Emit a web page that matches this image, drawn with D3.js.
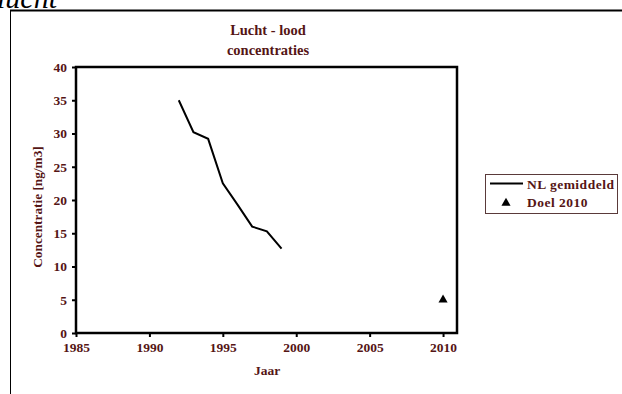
<!DOCTYPE html>
<html><head><meta charset="utf-8">
<script src="https://cdn.jsdelivr.net/npm/d3@7"></script>
<style>body{margin:0;background:#fff}svg{display:block}</style>
</head><body>
<svg id="c" width="622" height="394"></svg>
<script>
const years = [1992, 1993, 1994, 1995, 1996, 1997, 1998, 1999];
const nlGemiddeld = [35, 30.2, 29.2, 22.5, 19.3, 16.0, 15.3, 12.7];
const doelYears = [2010];
const doelValues = [5];
const xTicks = [1985, 1990, 1995, 2000, 2005, 2010];
const yTicks = [0, 5, 10, 15, 20, 25, 30, 35, 40];
const seriesNames = ["NL gemiddeld", "Doel 2010"];
const titleLines = ["Lucht - lood", "concentraties"];

const txt = "#551515";
const font = "'Liberation Serif', 'Times New Roman', serif";
const svg = d3.select("#c");

// outer frame (page fragment)
svg.append("line").attr("x1",10).attr("x2",622).attr("y1",10.5).attr("y2",10.5).attr("stroke","#000").attr("stroke-width",1.8);
svg.append("line").attr("x1",10.5).attr("x2",10.5).attr("y1",10).attr("y2",394).attr("stroke","#000").attr("stroke-width",1);
svg.append("text").attr("x",-3).attr("y",8).attr("font-family",font).attr("font-style","italic")
  .attr("font-size",30).attr("fill","#000").text("lucht");

const L = 76, R = 457, T = 67, B = 333;
const x = d3.scaleLinear().domain([1985, 2010.95]).range([L, R]);
const y = d3.scaleLinear().domain([0, 40]).range([B, T]);

// plot frame
svg.append("rect").attr("x",L).attr("y",T).attr("width",R-L).attr("height",B-T)
  .attr("fill","none").attr("stroke","#000").attr("stroke-width",2.5);

const xAxis = svg.append("g").attr("transform",`translate(0,${B})`)
  .call(d3.axisBottom(x).tickValues(xTicks).tickFormat(d3.format("d")).tickSize(4).tickPadding(5));
const yAxis = svg.append("g").attr("transform",`translate(${L},0)`)
  .call(d3.axisLeft(y).tickValues(yTicks).tickSize(4).tickPadding(5));
[xAxis, yAxis].forEach(g => {
  g.select(".domain").remove();
  g.selectAll(".tick line").attr("stroke","#000").attr("stroke-width",2);
  g.selectAll(".tick text").attr("fill",txt).attr("font-family",font).attr("font-weight","bold")
    .attr("font-size",13.5);
});

// title
svg.append("text").attr("text-anchor","middle").attr("font-family",font).attr("font-weight","bold")
  .attr("font-size",14.5).attr("fill",txt)
  .selectAll("tspan").data(titleLines).join("tspan")
  .attr("x",268).attr("y",(d,i)=>35+i*20).text(d=>d);

// axis titles
svg.append("text").attr("x",267).attr("y",375).attr("text-anchor","middle").attr("font-family",font)
  .attr("font-weight","bold").attr("font-size",13.5).attr("fill",txt).text("Jaar");
svg.append("text").attr("transform","translate(42,207) rotate(-90)").attr("text-anchor","middle")
  .attr("font-family",font).attr("font-weight","bold").attr("font-size",13.3).attr("fill",txt)
  .text("Concentratie [ng/m3]");

// series line
const line = d3.line().x((d,i)=>x(years[i])).y(d=>y(d));
svg.append("path").datum(nlGemiddeld).attr("d",line).attr("fill","none").attr("stroke","#000").attr("stroke-width",2);

// target triangle
const tri = d3.symbol().type(d3.symbolTriangle).size(36);
svg.selectAll(".doel").data(doelValues).join("path").attr("class","doel")
  .attr("transform",(d,i)=>`translate(${x(doelYears[i])},${y(d)})`).attr("d",tri).attr("fill","#000");

// legend
const lg = svg.append("g");
lg.append("rect").attr("x",485.5).attr("y",174.5).attr("width",132).attr("height",39)
  .attr("fill","#fff").attr("stroke","#5a3a3a").attr("stroke-width",1);
lg.append("line").attr("x1",490).attr("x2",523).attr("y1",183.5).attr("y2",183.5).attr("stroke","#000").attr("stroke-width",2);
lg.append("path").attr("transform","translate(506,203)").attr("d",tri).attr("fill","#000");
lg.selectAll("text").data(seriesNames).join("text")
  .attr("x",527).attr("y",(d,i)=>188.5+i*18.5).attr("font-family",font).attr("font-weight","bold")
  .attr("font-size",13.5).attr("letter-spacing",0.5).attr("fill",txt).text(d=>d);
</script>
</body></html>
